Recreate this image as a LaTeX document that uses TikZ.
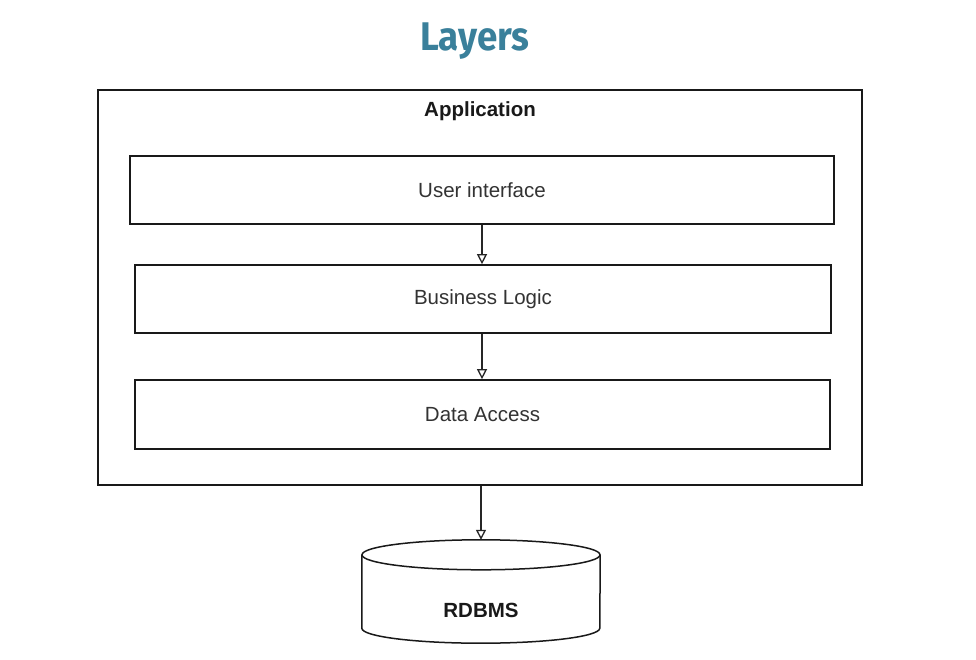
\documentclass[tikz,border=0pt]{standalone}
\usepackage{fontspec}
\setmainfont{Liberation Sans}
\newfontfamily\titlefont{Fira Sans}
\usetikzlibrary{arrows.meta}
\definecolor{titleteal}{RGB}{58,128,155}
\definecolor{textgray}{RGB}{51,51,51}
\tikzset{
  sketch/.style={draw=black!90, line width=1.7pt},
  layerbox/.style={sketch, rectangle, inner sep=0pt, font=\fontsize{20.5}{24}\selectfont, text=textgray},
  flow/.style={black!85, line width=1.5pt, -{Triangle[open, length=10pt, width=10pt, line width=1.3pt]}},
  boldlabel/.style={font=\bfseries\fontsize{20.5}{24}\selectfont, text=black!90}
}
\begin{document}
\begin{tikzpicture}[x=1pt, y=1pt]
\useasboundingbox[fill=white] (0,0) rectangle (976,-660);
\node[font=\titlefont\bfseries\fontsize{40}{46}\selectfont, text=titleteal] (title) at (475,-41) {\scalebox{0.92}[1]{Layers}};
\node[sketch, rectangle, minimum width=764pt, minimum height=395pt] (app) at (480,-287.5) {};
\node[boldlabel] (applabel) at (480,-111) {Application};
\node[layerbox, minimum width=704pt, minimum height=68pt] (ui) at (482,-190) {User interface};
\node[layerbox, minimum width=696pt, minimum height=68pt] (bl) at (483,-299) {Business Logic};
\node[layerbox, minimum width=695pt, minimum height=69pt] (da) at (482.5,-414.5) {Data Access};
\node[rectangle, minimum width=238pt, minimum height=103pt, inner sep=0pt] (db) at (481,-591.5) {};
\draw[sketch, line width=1.5pt] ([yshift=-15pt]db.north) ellipse [x radius=119pt, y radius=15pt];
\draw[sketch, line width=1.5pt] ([yshift=-15pt]db.north west) -- ([yshift=15pt]db.south west)
  arc[start angle=180, end angle=360, x radius=119pt, y radius=15pt] -- ([yshift=-15pt]db.north east);
\node[boldlabel] (dblabel) at (481,-610) {RDBMS};
\draw[flow] (ui.south -| 482,0) -- (bl.north -| 482,0);
\draw[flow] (bl.south -| 482,0) -- (da.north -| 482,0);
\draw[flow] (app.south -| 481,0) -- (db.north);
\end{tikzpicture}
\end{document}
